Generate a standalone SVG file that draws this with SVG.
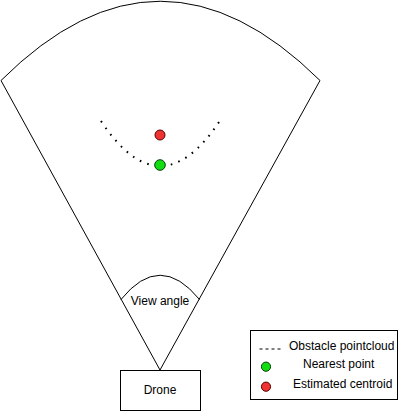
<svg xmlns="http://www.w3.org/2000/svg" width="401" height="411" viewBox="0 0 401 411">
<style>
.ln{fill:none;stroke:#000;stroke-width:1}
.t{font-family:"Liberation Sans",Arial,sans-serif;font-size:12px;fill:#000}
.g{fill:#11dd11;stroke:#0a3d0a;stroke-width:1}
.r{fill:#ee3333;stroke:#5a0000;stroke-width:1}
</style>
<rect width="401" height="411" fill="#fff"/>
<g id="field-of-view">
<path class="ln" d="M160,370 L1,80.5 Q160,-78 320,80.5 Z"/>
</g>
<g id="view-angle">
<path class="ln" d="M121,299.5 Q160,251 199.5,299.5"/>
<text class="t" x="160" y="305" text-anchor="middle">View angle</text>
</g>
<g id="pointcloud">
<path fill="none" stroke="#000" stroke-width="2" stroke-dasharray="1.6 6.4" d="M101,121 Q160,210.5 219,122"/>
</g>
<g id="centroid">
<circle class="r" cx="160" cy="135" r="5"/>
</g>
<g id="nearest">
<circle class="g" cx="160" cy="165" r="5.3"/>
</g>
<g id="drone">
<rect class="ln" x="120.5" y="370.5" width="80" height="40"/>
<text class="t" x="160" y="393.5" text-anchor="middle">Drone</text>
</g>
<g id="legend">
<rect class="ln" x="250.5" y="330.5" width="147" height="69"/>
<line x1="259.5" y1="349" x2="281" y2="349" stroke="#000" stroke-width="1" stroke-dasharray="3 3"/>
<text class="t" x="289" y="350">Obstacle pointcloud</text>
<circle class="g" cx="266" cy="366.7" r="4.6"/>
<text class="t" x="303" y="368.3">Nearest point</text>
<circle class="r" cx="266" cy="386.7" r="4.6"/>
<text class="t" x="293" y="388">Estimated centroid</text>
</g>
</svg>
